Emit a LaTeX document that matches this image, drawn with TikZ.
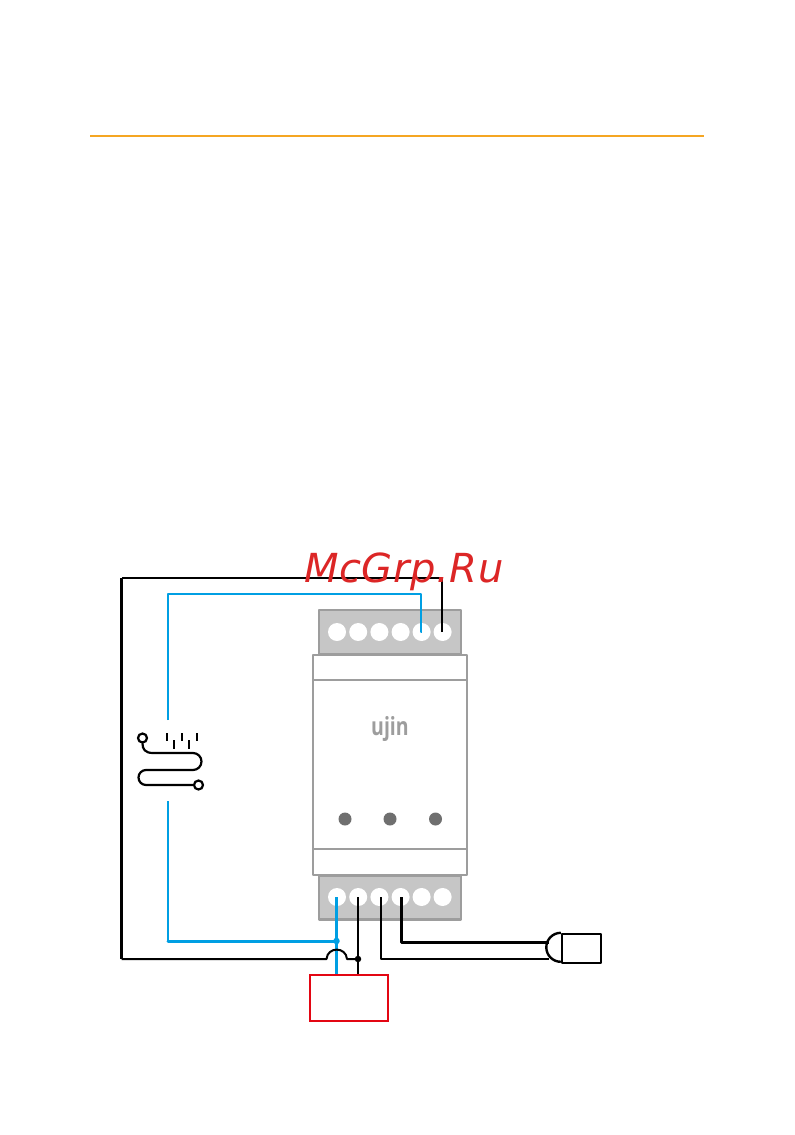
\documentclass[tikz,border=0pt]{standalone}
\usepackage{fontspec}
\usepackage{graphicx}
\setmainfont{DejaVu Sans}
\newfontfamily\logofont{Open Sans}
\definecolor{wblue}{HTML}{009FE3}
\definecolor{wred}{HTML}{E30613}
\definecolor{rule}{HTML}{F5A623}
\definecolor{blockfill}{HTML}{C6C6C6}
\definecolor{blockline}{HTML}{9D9D9D}
\definecolor{ledgrey}{HTML}{6F6F6F}
\definecolor{markred}{HTML}{DC2626}
\tikzset{
  term/.style={circle,fill=white,draw=none,minimum size=18pt,inner sep=0pt},
  led/.style={circle,fill=ledgrey,draw=none,minimum size=13pt,inner sep=0pt},
  blockbox/.style={draw=blockline,fill=blockfill,line width=2.2pt,line join=round,minimum width=142pt,minimum height=44pt,inner sep=0pt},
  bodybox/.style={draw=blockline,fill=white,line width=2.2pt,line join=round,minimum width=154pt,inner sep=0pt},
  bluew/.style={draw=wblue,line width=2pt,line join=round},
  blackw/.style={draw=black,line width=2pt,line join=round},
  ringo/.style={circle,draw=black,fill=white,line width=2.2pt,minimum size=9pt,inner sep=0pt},
  tick/.style={draw=black,line width=1.6pt},
  wdot/.style={circle,minimum size=6.5pt,inner sep=0pt,draw=none},
}
\begin{document}
\begin{tikzpicture}[x=1pt,y=-1pt]
\useasboundingbox[fill=white] (0,0) rectangle (795,1135);
\coordinate (ruleL) at (90,136);
\coordinate (ruleR) at (704,136);
\draw[rule,line width=1.8pt] (ruleL) -- (ruleR);
% device
\node[blockbox] (topblock) at (390,632) {};
\node[blockbox] (botblock) at (390,897.5) {};
\node[bodybox,minimum height=220pt] (body) at (390,765) {};
\coordinate (b1L) at (313,680); \coordinate (b1R) at (467,680);
\coordinate (b2L) at (313,849); \coordinate (b2R) at (467,849);
\draw[blockline,line width=2.6pt] (b1L) -- (b1R);
\draw[blockline,line width=1.8pt] (b2L) -- (b2R);
\foreach \n/\x in {1/337,2/358.2,3/379.4,4/400.6,5/421.6,6/442.6}{
  \node[term] (t\n) at (\x,632) {};
  \node[term] (b\n) at (\x,897) {};
}
\node[led] (led1) at (345,819) {};
\node[led] (led2) at (390,819) {};
\node[led] (led3) at (435.5,819) {};
\node[text=blockline,font=\logofont\bfseries\fontsize{25}{25}\selectfont,inner sep=0pt,anchor=base] (logo) at (390,735) {\scalebox{0.78}[1]{ujin}};
% heater
\node[ringo] (hA) at (142.5,738) {};
\node[ringo] (hB) at (198.5,785) {};
\draw[black,line width=2.2pt,line cap=round] (hA.south) .. controls (142.5,749) and (145,753) .. (153,753) -- (193,753)
  arc[start angle=-90,end angle=90,radius=8.5] -- (146,770)
  arc[start angle=270,end angle=90,radius=7.5] -- (hB.west);
\foreach \x/\ya/\yb/\w in {167/733/741/1.6,174/740/748.5/2.4,182/733/741/1.6,189/740/748.5/2.4,197/733/741/1.6}{
  \draw[tick,line width=\w pt] (\x,\ya) -- (\x,\yb);
}
% coordinates for free ends
\coordinate (hTop) at (168,720);
\coordinate (hBot) at (168,801);
\node[wdot,fill=wblue] (jblue) at (336.5,941) {};
\node[wdot,fill=black] (jblack) at (358,959) {};
\node[draw=wred,fill=white,line width=2.2pt,minimum width=78pt,minimum height=46pt,inner sep=0pt] (redbox) at (349,998) {};
% sensor
\node[draw=black,line width=2.4pt,line join=round,minimum width=39pt,minimum height=29pt,inner sep=0pt] (sensor) at (581.5,948.5) {};
\draw[black,line width=2.4pt] (sensor.north west) arc[start angle=270,end angle=90,radius=14.5];
% wires
\draw[bluew] (hTop) -- (168,594) -- (421,594) -- (421,632) -- (t5.center);
\draw[blackw] (442,632) -- (442,578) -- (121.5,578);
\draw[black,line width=3pt,line cap=square] (121.5,578) -- (121.5,959);
\draw[bluew] (hBot) -- (168,941);
\draw[wblue,line width=3pt,line join=round,line cap=round] (168,941) -- (jblue.center);
\draw[wblue,line width=2.5pt] (336.5,897) -- (336.5,974);
\draw[blackw] (121.5,959) -- (326.5,959) .. controls (327.5,946.5) and (346,946.5) .. (347,959) -- (jblack.center);
\draw[blackw] (358,897) -- (358,974);
\draw[blackw] (380.5,897) -- (380.5,959) -- (549,959);
\draw[black,line width=3pt,line join=round] (401,897) -- (401,942.5) -- (549,942.5);
% watermark
\node[anchor=base west,inner sep=0pt,text=markred,font=\fontsize{40}{40}\selectfont\itshape\addfontfeatures{LetterSpace=1.5}] (mark) at (304,582) {McGrp.Ru};
\end{tikzpicture}
\end{document}
